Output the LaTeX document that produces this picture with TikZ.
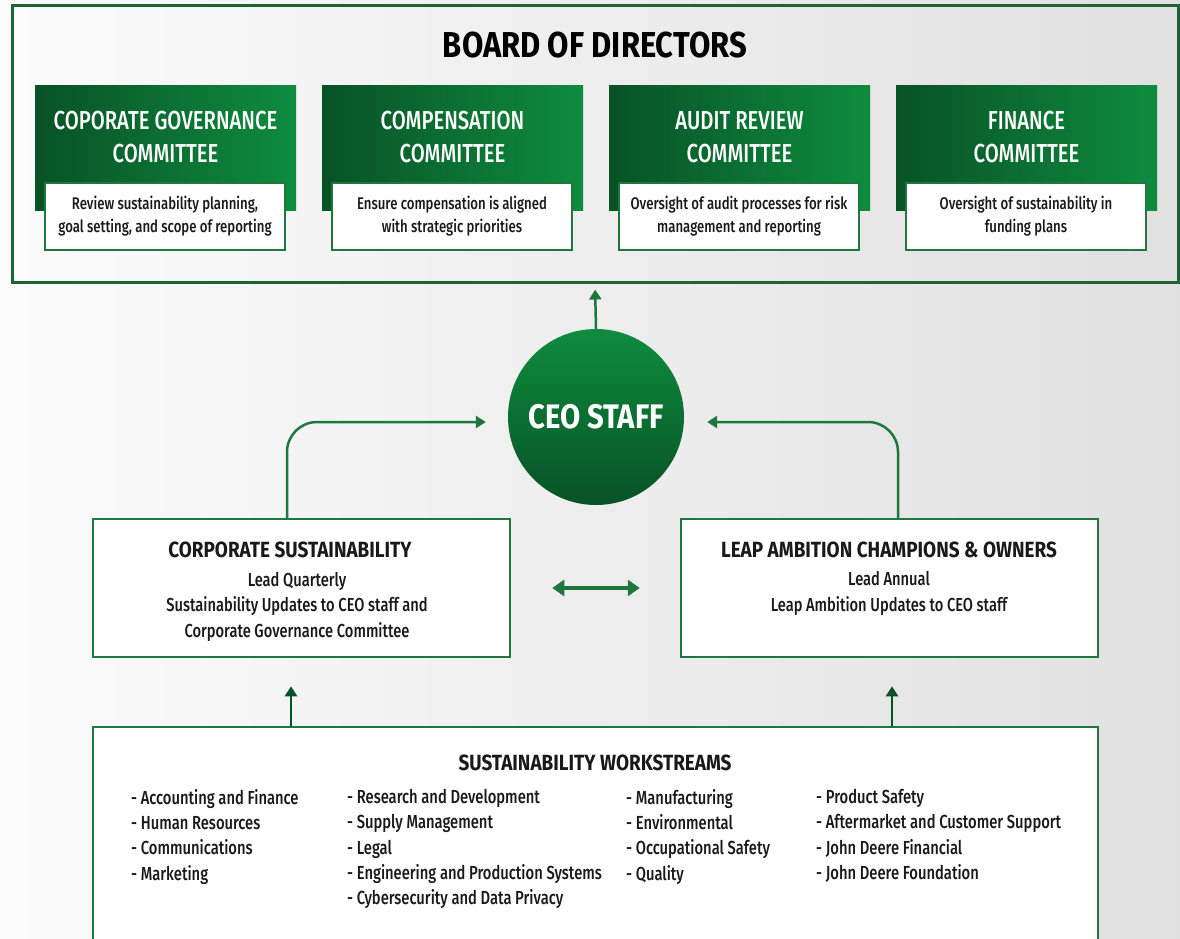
\documentclass[tikz,border=0pt]{standalone}
\usepackage{fontspec}
\setmainfont{Fira Sans Medium}[FakeStretch=0.78, BoldFont={Fira Sans Bold}, BoldFeatures={FakeStretch=0.86}]
\usetikzlibrary{arrows.meta}
\definecolor{gdark}{RGB}{8,82,38}
\definecolor{gmid}{RGB}{14,140,62}
\definecolor{gline}{RGB}{30,120,62}
\definecolor{gframe}{RGB}{28,100,56}
\definecolor{txt}{RGB}{25,25,25}
\tikzset{
  frame/.style={draw=gframe, line width=3pt, inner sep=0pt},
  whitebox/.style={draw=gline, line width=2.5pt, fill=white, inner sep=0pt},
  combox/.style={left color=gdark, right color=gmid, draw=none, inner sep=0pt,
    minimum width=261pt, minimum height=125pt},
  comtitle/.style={text=white, align=center, inner sep=0pt,
    font=\fontsize{26}{33}\selectfont},
  subbox/.style={draw=gline, line width=2pt, fill=white, inner sep=0pt,
    minimum width=240pt, minimum height=67pt, align=center, text=txt,
    font=\fontsize{16.9}{23}\selectfont},
  boxtitle/.style={text=txt, inner sep=0pt, font=\bfseries\fontsize{22}{26}\selectfont},
  boxbody/.style={text=txt, inner sep=0pt, align=center, font=\fontsize{18.8}{25.5}\selectfont},
  item/.style={text=txt, inner sep=0pt, align=left, font=\fontsize{18.9}{25.3}\selectfont},
  conn/.style={draw=gline, line width=2.5pt, -{Triangle[width=12pt,length=10pt]}},
  dblarrow/.style={draw=gline, line width=4pt,
    {Triangle[width=16pt,length=12pt]}-{Triangle[width=16pt,length=12pt]}},
}
\begin{document}
\begin{tikzpicture}[x=1pt,y=-1pt]
\useasboundingbox (0,0) rectangle (1180,938);
\clip (0,0) rectangle (1180,938);
\shade[left color=gray!3, right color=gray!24] (0,0) rectangle (1180,938);

% Board of directors
\node[frame, minimum width=1166pt, minimum height=277pt] (board) at (595,143.5) {};
\node[text=black, inner sep=0pt, font=\bfseries\fontsize{36}{40}\selectfont] (boardtitle) at (595,45) {BOARD OF DIRECTORS};

\foreach \t/\d [count=\k] in {
  {COPORATE GOVERNANCE\\COMMITTEE}/{Review sustainability planning,\\goal setting, and scope of reporting},
  {COMPENSATION\\COMMITTEE}/{Ensure compensation is aligned\\with strategic priorities},
  {AUDIT REVIEW\\COMMITTEE}/{Oversight of audit processes for risk\\management and reporting},
  {FINANCE\\COMMITTEE}/{Oversight of sustainability in\\funding plans}} {
  \node[combox] (com\k) at ({165.5+287*(\k-1)},147.5) {};
  \node[comtitle] (comt\k) at ({165.5+287*(\k-1)},137.5) {\t};
  \node[subbox] (sub\k) at ({165+287*(\k-1)},216.5) {\d};
}

% CEO staff
\node[circle, minimum size=176pt, inner sep=0pt, top color=gmid, bottom color=gdark,
  text=white, font=\bfseries\fontsize{34}{38}\selectfont] (ceo) at (596,417) {CEO STAFF};

% middle boxes
\node[whitebox, minimum width=417pt, minimum height=138pt] (lbox) at (301.5,588) {};
\node[boxtitle] (ltitle) at (290,550) {CORPORATE SUSTAINABILITY};
\node[boxbody] (lbody) at (297,606.5) {Lead Quarterly\\Sustainability Updates to CEO staff and\\Corporate Governance Committee};

\node[whitebox, minimum width=417pt, minimum height=138pt] (rbox) at (889.5,588) {};
\node[boxtitle] (rtitle) at (889,550) {LEAP AMBITION CHAMPIONS \& OWNERS};
\node[boxbody] (rbody) at (889,593.5) {Lead Annual\\Leap Ambition Updates to CEO staff};

% workstreams
\node[whitebox, minimum width=1005pt, minimum height=240pt] (wbox) at (595.5,847) {};
\node[boxtitle] (wtitle) at (595,763) {SUSTAINABILITY WORKSTREAMS};
\node[item, anchor=north west] (col1) at (131,789) {- Accounting and Finance\\- Human Resources\\- Communications\\- Marketing};
\node[item, anchor=north west] (col2) at (347,789) {- Research and Development\\- Supply Management\\- Legal\\- Engineering and Production Systems\\- Cybersecurity and Data Privacy};
\node[item, anchor=north west] (col3) at (626,789) {- Manufacturing\\- Environmental\\- Occupational Safety\\- Quality};
\node[item, anchor=north west] (col4) at (816,789) {- Product Safety\\- Aftermarket and Customer Support\\- John Deere Financial\\- John Deere Foundation};

% connectors
\coordinate (lk) at (287,0);
\coordinate (rk) at (898,0);
\coordinate (bl) at (291,0);
\coordinate (br) at (892,0);
\draw[conn, shorten >=6pt] (ceo.north) -- (board.south);
\draw[conn, rounded corners=30pt, shorten >=22pt] (lbox.north -| lk) |- ([yshift=-5pt]ceo.west);
\draw[conn, rounded corners=30pt, shorten >=23pt] (rbox.north -| rk) |- ([yshift=-5pt]ceo.east);
\draw[dblarrow, shorten <=41pt, shorten >=40pt] (lbox.east) -- (rbox.west);
\draw[conn, draw=gdark, shorten >=28pt] (wbox.north -| bl) -- (lbox.south -| bl);
\draw[conn, draw=gdark, shorten >=28pt] (wbox.north -| br) -- (rbox.south -| br);
\end{tikzpicture}
\end{document}
